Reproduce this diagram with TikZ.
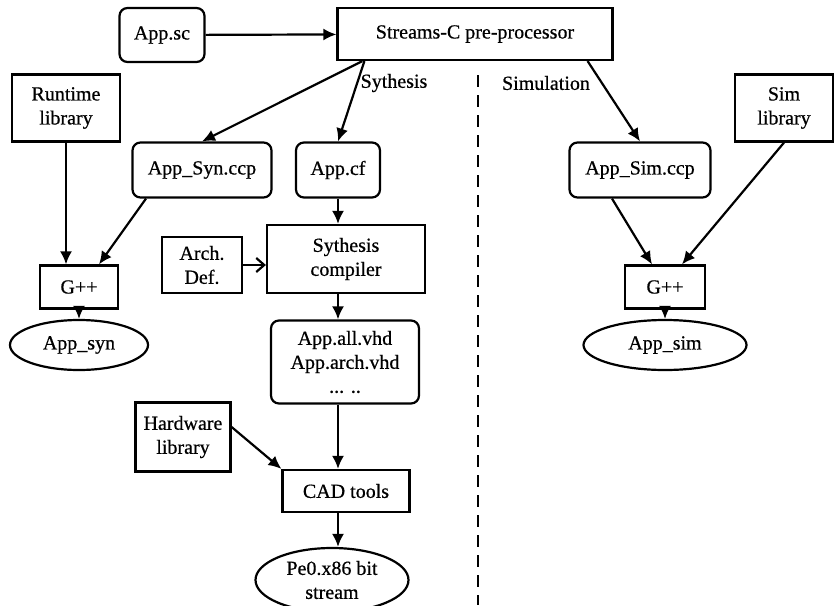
\documentclass[tikz,border=0pt]{standalone}
\usepackage{fontspec}
\setmainfont{Liberation Serif}[FakeBold=0.6]
\usetikzlibrary{calc}
\usetikzlibrary{positioning}
\usetikzlibrary{arrows.meta}
\usetikzlibrary{shapes}

\begin{document}
\begin{tikzpicture}[x=0.5pt, y=-0.5pt, >={Latex[length=6.5pt,width=6pt]}, line width=1.1pt,
box/.style={draw, rectangle, align=center, inner sep=0pt},
rbox/.style={draw, rectangle, rounded corners=4pt, align=center, inner sep=0pt},
oval/.style={draw, ellipse, align=center, inner sep=0pt},
barb/.style={-{Straight Barb[length=4pt,width=7pt]}}]

\useasboundingbox (0,0) rectangle (835,605);

\node [rbox, minimum width=42.5pt, minimum height=27pt](appsc) at (162,35) {App.sc};
\node [box, minimum width=137.5pt, minimum height=26pt](prep) at (475,34) {Streams-C pre-processor};
\node [box, minimum width=54pt, minimum height=33.5pt](rtlib) at (66,108) {Runtime\\library};
\node [rbox, minimum width=69.5pt, minimum height=27.5pt](appsyn) at (202,170) {App\_Syn.ccp};
\node [rbox, minimum width=42pt, minimum height=27.5pt](appcf) at (338,170) {App.cf};
\node [box, minimum width=49pt, minimum height=33.5pt](simlib) at (784,108) {Sim\\library};
\node [rbox, minimum width=70.5pt, minimum height=27.5pt](appsim) at (640,170) {App\_Sim.ccp};

\node [box, minimum width=39pt, minimum height=21.5pt](gppsyn) at (79,287) {G++};
\node [box, minimum width=40pt, minimum height=21.5pt](gppsim) at (665,287) {G++};
\node [oval, minimum width=69pt, minimum height=25pt](exesyn) at (79,345) {App\_syn};
\node [oval, minimum width=81.5pt, minimum height=25pt](exesim) at (665,345) {App\_sim};

\node [box, minimum width=40pt, minimum height=28pt](archdef) at (202,265) {Arch.\\Def.};
\node [box, minimum width=79pt, minimum height=34pt](syncomp) at (346,259) {Sythesis\\compiler};
\node [rbox, minimum width=74pt, minimum height=41.5pt](vhd) at (345,362) {App.all.vhd\\App.arch.vhd\\... ..};
\node [box, minimum width=47.5pt, minimum height=34.5pt](hwlib) at (183,437) {Hardware\\library};
\node [box, minimum width=63.5pt, minimum height=21pt](cad) at (346,491) {CAD tools};
\node [oval, minimum width=76.5pt, minimum height=32pt](bits) at (332,580) {Pe0.x86 bit\\stream};

\node (synlabel) at (394,83) {Sythesis};
\node (simlabel) at (546,83) {Simulation};

\coordinate (dtop) at (478,75);
\coordinate (dbot) at (478,605);
\draw [dash pattern=on 6pt off 4pt] (dtop) -- (dbot);

\draw [->] (appsc) -- (prep);
\draw [->] ([xshift=13pt]prep.south west) -- (appsyn.north);
\draw [->] ([xshift=14pt]prep.south west) -- (appcf.north);
\draw [->] ([xshift=-13pt]prep.south east) -- (appsim.north);

\draw [->] (rtlib.south) -- (rtlib.south |- gppsyn.north);
\draw [->] ([xshift=-28pt]appsyn.south) -- ([xshift=10pt]gppsyn.north);
\draw [->] (gppsyn) -- (exesyn);

\draw [->] (appcf) -- (appcf |- syncomp.north);
\draw [barb] (archdef.east) -- (archdef.east -| syncomp.west);
\draw [->] (syncomp.south -| appcf) -- (vhd.north -| appcf);
\draw [->] (vhd.south -| appcf) -- (cad.north -| appcf);
\draw [->] ([yshift=5pt]hwlib.east) -- (cad.north west);
\draw [->] (cad.south -| appcf) -- (bits.north -| appcf);

\draw [->] ([xshift=-14pt]appsim.south) -- ([xshift=-6.5pt]gppsim.north);
\draw [->] (simlib.south) -- ([xshift=8.5pt]gppsim.north);
\draw [->] (gppsim) -- (exesim);
\end{tikzpicture}
\end{document}
